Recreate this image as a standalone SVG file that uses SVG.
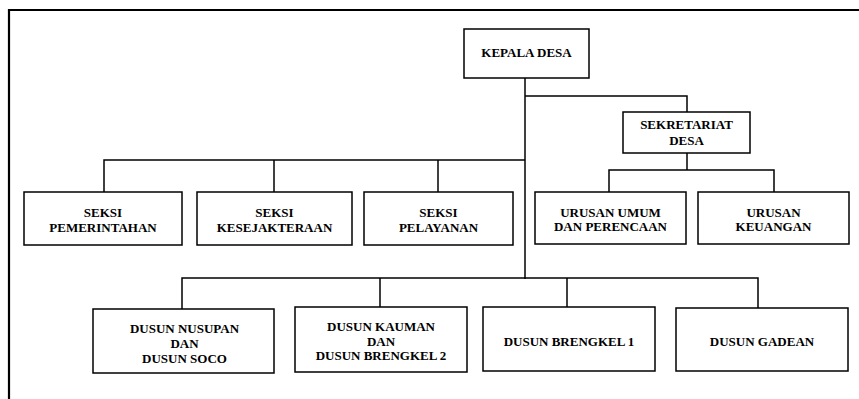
<svg xmlns="http://www.w3.org/2000/svg" width="859" height="399" viewBox="0 0 859 399">
<style>
.box{fill:#fff;stroke:#000;stroke-width:1.5}
.ln{fill:none;stroke:#000;stroke-width:1.5}
text{font-family:"Liberation Serif","Times New Roman",serif;font-weight:bold;font-size:13px;fill:#000;text-anchor:middle}
</style>
<rect width="859" height="399" fill="#fff"/>
<g id="frame"><path d="M9 399 V10 H859" fill="none" stroke="#000" stroke-width="2.2"/></g>
<g id="connectors" class="ln">
<path d="M525 78 V279"/>
<path d="M525 96 H687 V112"/>
<path d="M104 192 V160 H525"/>
<path d="M274 160 V192"/>
<path d="M438 160 V192"/>
<path d="M687 153 V170"/>
<path d="M609 192 V170 H774 V192"/>
<path d="M182 309 V278 H758 V308"/>
<path d="M380 278 V307"/>
<path d="M567 278 V307"/>
</g>
<g id="kepala"><rect class="box" x="464" y="29" width="125" height="49"/><text x="526.5" y="56.5">KEPALA DESA</text></g>
<g id="sekretariat"><rect class="box" x="623" y="112" width="127" height="41"/><text x="686.5" y="128.5">SEKRETARIAT</text><text x="686.5" y="144.5">DESA</text></g>
<g id="seksi-pemerintahan"><rect class="box" x="24" y="192" width="158" height="53"/><text x="103" y="216.5">SEKSI</text><text x="103" y="231.5">PEMERINTAHAN</text></g>
<g id="seksi-kesejakteraan"><rect class="box" x="197" y="192" width="155" height="53"/><text x="274.5" y="216.5">SEKSI</text><text x="274.5" y="231.5">KESEJAKTERAAN</text></g>
<g id="seksi-pelayanan"><rect class="box" x="364" y="192" width="149" height="53"/><text x="438.5" y="216.5">SEKSI</text><text x="438.5" y="231.5">PELAYANAN</text></g>
<g id="urusan-umum"><rect class="box" x="535" y="192" width="151" height="52"/><text x="610.5" y="216.5">URUSAN UMUM</text><text x="610.5" y="230.5">DAN PERENCAAN</text></g>
<g id="urusan-keuangan"><rect class="box" x="698" y="192" width="151" height="52"/><text x="773.5" y="216.5">URUSAN</text><text x="773.5" y="230.5">KEUANGAN</text></g>
<g id="dusun-nusupan"><rect class="box" x="93" y="309" width="181" height="64"/><text x="184.5" y="332.5">DUSUN NUSUPAN</text><text x="184.5" y="347.5">DAN</text><text x="184.5" y="362.5">DUSUN SOCO</text></g>
<g id="dusun-kauman"><rect class="box" x="295" y="307" width="172" height="65"/><text x="381" y="331">DUSUN KAUMAN</text><text x="381" y="345.5">DAN</text><text x="381" y="359.5">DUSUN BRENGKEL 2</text></g>
<g id="dusun-brengkel1"><rect class="box" x="483" y="307" width="172" height="64"/><text x="569" y="346">DUSUN BRENGKEL 1</text></g>
<g id="dusun-gadean"><rect class="box" x="676" y="308" width="172" height="63"/><text x="762" y="346">DUSUN GADEAN</text></g>
</svg>
